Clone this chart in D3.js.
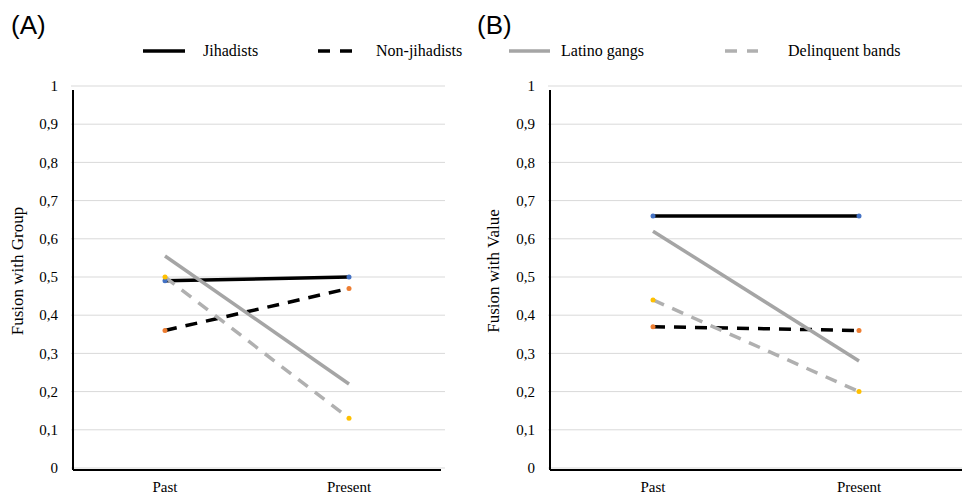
<!DOCTYPE html>
<html>
<head>
<meta charset="utf-8">
<script src="https://cdn.jsdelivr.net/npm/d3@7"></script>
<style>
  body { margin: 0; background: #fff; }
  text { font-family: "Liberation Serif", "Times New Roman", serif; }
</style>
</head>
<body>
<script>
const times = ["Past", "Present"];
const yTicks = [0, 0.1, 0.2, 0.3, 0.4, 0.5, 0.6, 0.7, 0.8, 0.9, 1];

const seriesNames = ["Jihadists", "Non-jihadists", "Latino gangs", "Delinquent bands"];

// panel A: fusion with group
const groupJihadists = [0.49, 0.50];
const groupNonJihadists = [0.36, 0.47];
const groupLatino = [0.555, 0.22];
const groupDelinquent = [0.50, 0.13];

// panel B: fusion with value
const valueJihadists = [0.66, 0.66];
const valueNonJihadists = [0.37, 0.36];
const valueLatino = [0.62, 0.28];
const valueDelinquent = [0.44, 0.20];

const styles = {
  "Jihadists": { stroke: "#000", dash: null, dot: "#4472C4" },
  "Non-jihadists": { stroke: "#000", dash: "12,9", dot: "#ED7D31" },
  "Latino gangs": { stroke: "#a5a5a5", dash: null, dot: null },
  "Delinquent bands": { stroke: "#b0b0b0", dash: "12,9", dot: "#FFC000" }
};

const panels = [
  { tag: "(A)", title: "Fusion with Group", left: 73, right: 441, gridRight: 445, tagX: 11, titleX: 23,
    series: [groupJihadists, groupNonJihadists, groupLatino, groupDelinquent] },
  { tag: "(B)", title: "Fusion with Value", left: 550, right: 962, gridRight: 962, tagX: 477, titleX: 499,
    series: [valueJihadists, valueNonJihadists, valueLatino, valueDelinquent] }
];

const svg = d3.select("body").append("svg")
  .attr("width", 967)
  .attr("height", 498);

const y = d3.scaleLinear().domain([0, 1]).range([468, 86]);

panels.forEach(p => {
  const x = d3.scalePoint().domain(times).range([p.left, p.right]).padding(0.5);
  const g = svg.append("g");

  // gridlines
  g.selectAll(".grid").data(yTicks).enter().append("line")
    .attr("x1", p.left - 2).attr("x2", p.gridRight)
    .attr("y1", d => y(d)).attr("y2", d => y(d))
    .attr("stroke", "#d9d9d9").attr("stroke-width", 1);

  // y tick labels
  g.selectAll(".ytick").data(yTicks).enter().append("text")
    .attr("x", p.left - 15).attr("y", d => y(d))
    .attr("dy", "0.35em")
    .attr("text-anchor", "end")
    .attr("font-size", 15)
    .text(d => d3.format(".1~f")(d).replace(".", ","));

  // x labels
  g.selectAll(".xtick").data(times).enter().append("text")
    .attr("x", d => x(d)).attr("y", 492)
    .attr("text-anchor", "middle")
    .attr("font-size", 15)
    .text(d => d);

  // axes lines
  g.append("line")
    .attr("x1", p.left).attr("x2", p.left)
    .attr("y1", 90).attr("y2", 470)
    .attr("stroke", "#000").attr("stroke-width", 2);
  g.append("line")
    .attr("x1", p.left).attr("x2", p.right)
    .attr("y1", 470).attr("y2", 470)
    .attr("stroke", "#000").attr("stroke-width", 2);

  // series lines
  const line = d3.line().x((d, i) => x(times[i])).y(d => y(d));
  p.series.forEach((vals, k) => {
    const st = styles[seriesNames[k]];
    g.append("path")
      .attr("d", line(vals))
      .attr("fill", "none")
      .attr("stroke", st.stroke)
      .attr("stroke-width", 3.5)
      .attr("stroke-dasharray", st.dash);
  });
  p.series.forEach((vals, k) => {
    const st = styles[seriesNames[k]];
    if (!st.dot) return;
    g.selectAll(null).data(vals).enter().append("circle")
      .attr("cx", (d, i) => x(times[i]))
      .attr("cy", d => y(d))
      .attr("r", 2.5)
      .attr("fill", st.dot);
  });

  // panel tag
  svg.append("text")
    .attr("x", p.tagX).attr("y", 34)
    .attr("font-size", 26)
    .style("font-family", "'Liberation Sans', Arial, sans-serif")
    .text(p.tag);

  // y title
  svg.append("text")
    .attr("transform", `translate(${p.titleX},${271}) rotate(-90)`)
    .attr("text-anchor", "middle")
    .attr("font-size", 17)
    .text(p.title);
});

// legend
const legendPos = [
  { x1: 143, x2: 185, tx: 203 },
  { x1: 318, x2: 352, tx: 376 },
  { x1: 509, x2: 550, tx: 561 },
  { x1: 725, x2: 758, tx: 788 }
];
seriesNames.forEach((name, k) => {
  const st = styles[name];
  const lp = legendPos[k];
  svg.append("line")
    .attr("x1", lp.x1).attr("x2", lp.x2)
    .attr("y1", 51).attr("y2", 51)
    .attr("stroke", st.stroke)
    .attr("stroke-width", 3.5)
    .attr("stroke-dasharray", st.dash ? "12,10" : null);
  svg.append("text")
    .attr("x", lp.tx).attr("y", 56)
    .attr("font-size", 16)
    .text(name);
});
</script>
</body>
</html>
